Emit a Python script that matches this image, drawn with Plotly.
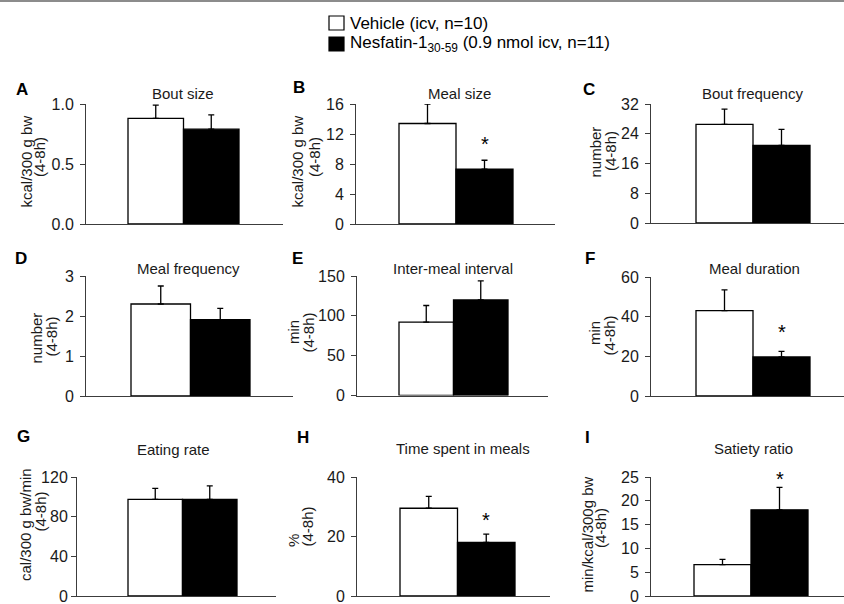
import plotly.graph_objects as go

W, H = 844, 604
FONT = "Liberation Sans, Arial, sans-serif"

# ---- data: group means and SEM (4-8 h post injection) ----
panel_letters = ["A", "B", "C", "D", "E", "F", "G", "H", "I"]
panel_titles = ["Bout size", "Meal size", "Bout frequency",
                "Meal frequency", "Inter-meal interval", "Meal duration",
                "Eating rate", "Time spent in meals", "Satiety ratio"]
vehicle_mean = [0.88, 13.4, 26.5, 2.30, 92, 43.0, 97.5, 29.5, 6.6]
vehicle_sem = [0.11, 2.6, 4.1, 0.45, 21, 10.5, 11.0, 4.0, 1.1]
nesfatin_mean = [0.79, 7.3, 20.9, 1.91, 120, 19.7, 97.5, 18.0, 18.1]
nesfatin_sem = [0.12, 1.2, 4.3, 0.28, 24, 2.8, 13.5, 2.8, 4.7]
significant = [False, True, False, False, False, True, False, True, True]
y_label_main = ["kcal/300 g bw", "kcal/300 g bw", "number",
                "number", "min", "min",
                "cal/300 g bw/min", "%", "min/kcal/300g bw"]
y_label_unit = "(4-8h)"
y_max = [1.0, 16, 32, 3, 150, 60, 120, 40, 25]
y_step = [0.5, 4, 8, 1, 50, 20, 40, 20, 5]
legend_labels = ["Vehicle (icv, n=10)",
                 "Nesfatin-1<sub>30-59</sub> (0.9 nmol icv, n=11)"]

# ---- layout in pixels ----
# (axis left, axis right, bar pair left, bar pair right, axis top, axis bottom)
boxes = [
    (86, 283, 128, 239, 104, 224),
    (356, 555, 399, 513, 104, 224),
    (651, 844, 696, 810, 104, 223),
    (86, 293, 131, 250, 276, 396),
    (357, 548, 399, 508, 276, 395.5),
    (651, 844, 696, 810, 277, 396),
    (77, 276, 128, 237, 477, 596),
    (357, 550, 400, 515, 477, 596),
    (651, 844, 694, 808, 477, 596),
]
title_pos = [(183, 93), (459, 93), (752, 93),
             (188, 268), (453, 268), (754, 268),
             (173, 449), (463, 448), (753, 448)]
letter_pos = [(14, 89), (291, 88), (581, 89),
              (13, 258), (290, 258), (583, 258),
              (15, 436), (295, 437), (583, 437)]
# centre of each y-label line: (x1, y1, x2, y2)
ylab_pos = [(26.5, 162, 40, 157), (297.5, 162, 315, 157), (595.5, 152, 610, 151),
            (35.5, 338, 50.5, 337), (293, 332, 307.5, 333), (594, 333, 608.5, 336),
            (25, 525, 39.5, 512), (293, 541, 306.5, 527), (586.5, 535, 600, 528)]
tick_standoff = [3, 3, 3, 3, 3, 3, 0, 3, 3]
star_shift = [0, 16, 0, 0, 0, 19, 0, 14, 8]


def fx(px):
    return px / W


def fy(py):
    return 1 - py / H


fig = go.Figure()
annotations = []
axis_color = "#3c3c3c"

for i in range(9):
    n = i + 1
    xa = "x" if n == 1 else f"x{n}"
    ya = "y" if n == 1 else f"y{n}"
    X0, X1, L, R, yt, yb = boxes[i]
    unit = (R - L) / 2
    xmin = -0.5 - (L - X0) / unit
    xmax = 1.5 + (X1 - R) / unit

    for xpos, mean, sem, fill in [(0, vehicle_mean[i], vehicle_sem[i], "white"),
                                  (1, nesfatin_mean[i], nesfatin_sem[i], "black")]:
        fig.add_trace(go.Bar(
            x=[xpos], y=[mean], width=[1], xaxis=xa, yaxis=ya,
            marker=dict(color=fill, line=dict(color="black", width=1.3)),
            error_y=dict(type="data", array=[sem], arrayminus=[0],
                         symmetric=False, color="black", thickness=1.3, width=3),
            showlegend=False, hoverinfo="skip",
        ))

    step = y_step[i]
    nt = int(round(y_max[i] / step))
    tv = [k * step for k in range(nt + 1)]
    tt = [f"{v:.1f}" if step < 1 else f"{int(v)}" for v in tv]

    xkey = "xaxis" if n == 1 else f"xaxis{n}"
    ykey = "yaxis" if n == 1 else f"yaxis{n}"
    fig.update_layout(**{
        xkey: dict(domain=[fx(X0), fx(X1)], range=[xmin, xmax], anchor=ya,
                   showline=True, linecolor=axis_color, linewidth=1,
                   showticklabels=False, ticks="", showgrid=False,
                   zeroline=False, fixedrange=True, automargin=False),
        ykey: dict(domain=[fy(yb), fy(yt)], range=[0, y_max[i]], anchor=xa,
                   tickvals=tv, ticktext=tt, ticks="outside", ticklen=5,
                   tickcolor=axis_color, tickwidth=1,
                   ticklabelstandoff=tick_standoff[i], ticklabeloverflow="allow",
                   showline=True, linecolor=axis_color, linewidth=1,
                   showgrid=False, zeroline=False, fixedrange=True,
                   automargin=False,
                   tickfont=dict(family=FONT, size=16, color="#1a1a1a")),
    })

    # panel title and letter
    tx, ty = title_pos[i]
    annotations.append(dict(x=fx(tx), y=fy(ty), xref="paper", yref="paper",
                            text=panel_titles[i], showarrow=False,
                            xanchor="center", yanchor="middle",
                            font=dict(family=FONT, size=15, color="#1a1a1a")))
    lx, ly = letter_pos[i]
    annotations.append(dict(x=fx(lx), y=fy(ly), xref="paper", yref="paper",
                            text=f"<b>{panel_letters[i]}</b>", showarrow=False,
                            xanchor="left", yanchor="middle",
                            font=dict(family=FONT, size=17, color="black")))

    # two-line rotated y label
    a1, b1, a2, b2 = ylab_pos[i]
    for txt, ax_, ay_ in [(y_label_main[i], a1, b1), (y_label_unit, a2, b2)]:
        annotations.append(dict(x=fx(ax_), y=fy(ay_), xref="paper", yref="paper",
                                text=txt, textangle=-90, showarrow=False,
                                xanchor="center", yanchor="middle",
                                font=dict(family=FONT, size=15, color="#1a1a1a")))

    # significance marker above the Nesfatin bar
    if significant[i]:
        annotations.append(dict(x=1, y=nesfatin_mean[i] + nesfatin_sem[i],
                                xref=xa, yref=ya, text="*", showarrow=False,
                                xanchor="center", yanchor="middle",
                                yshift=star_shift[i],
                                font=dict(family=FONT, size=20, color="black")))

# legend drawn as swatches + labels
shapes = [
    dict(type="line", xref="paper", yref="paper", x0=0, x1=1,
         y0=fy(1), y1=fy(1), line=dict(color="#8c8c8c", width=2)),
    dict(type="rect", xref="paper", yref="paper", x0=fx(329), x1=fx(344),
         y0=fy(30), y1=fy(16), fillcolor="white",
         line=dict(color="black", width=1.2)),
    dict(type="rect", xref="paper", yref="paper", x0=fx(329), x1=fx(344),
         y0=fy(51), y1=fy(37), fillcolor="black",
         line=dict(color="black", width=1.2)),
]
for txt, ly in zip(legend_labels, [23, 44]):
    annotations.append(dict(x=fx(348), y=fy(ly), xref="paper", yref="paper",
                            text=txt, showarrow=False, xanchor="left",
                            yanchor="middle",
                            font=dict(family=FONT, size=17, color="black")))

fig.update_layout(
    width=W, height=H, margin=dict(l=0, r=0, t=0, b=0, pad=0, autoexpand=False),
    paper_bgcolor="white", plot_bgcolor="white",
    barmode="overlay", showlegend=False,
    annotations=annotations, shapes=shapes,
    font=dict(family=FONT),
)

fig.write_html("out.html")
